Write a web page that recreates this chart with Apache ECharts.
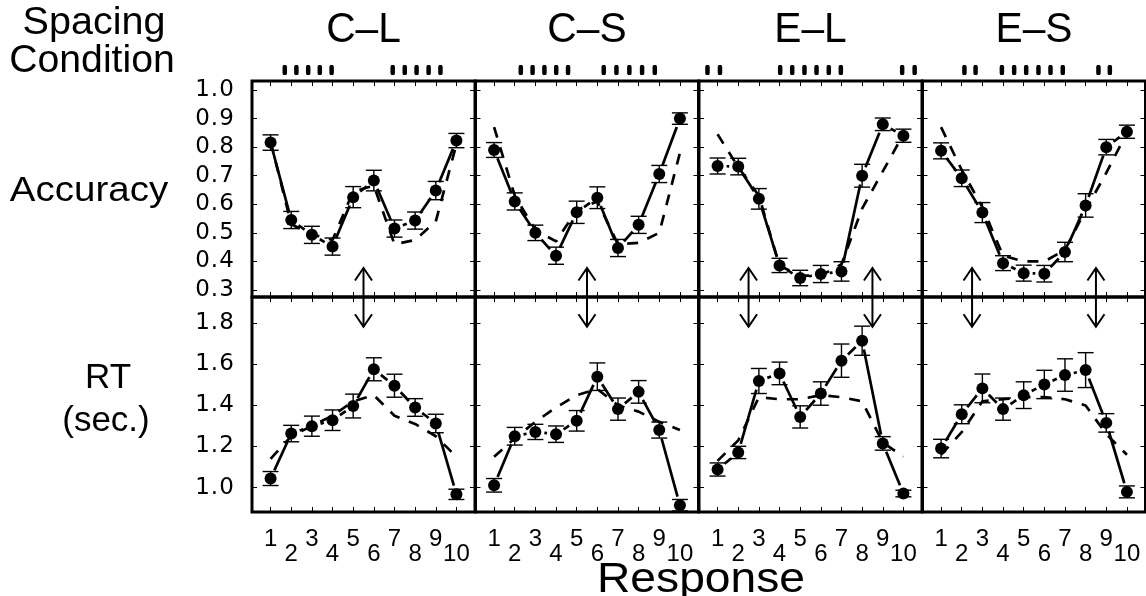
<!DOCTYPE html>
<html>
<head>
<meta charset="utf-8">
<script src="https://cdn.jsdelivr.net/npm/echarts@6/dist/echarts.min.js"></script>
<style>html,body{margin:0;padding:0;background:#fff;}#c{width:1146px;height:596px;}</style>
</head>
<body>
<div id="c"></div>
<script>
// ---------------- data ----------------
const conditions = ['C–L', 'C–S', 'E–L', 'E–S'];
const responses = [1, 2, 3, 4, 5, 6, 7, 8, 9, 10];
const accTicks = [0.3, 0.4, 0.5, 0.6, 0.7, 0.8, 0.9, 1.0];
const rtTicks = [1.0, 1.2, 1.4, 1.6, 1.8];

// spacing of stimuli (percent of panel width)
const spacingCL = [14.7, 19.9, 25.2, 30.4, 35.7, 63.1, 68.5, 73.8, 79.2, 84.5];
const spacingCS = [20.3, 25.6, 30.9, 36.2, 41.5, 57.5, 63.2, 69.0, 74.7, 80.4];
const spacingEL = [3.8, 9.4, 36.4, 41.8, 47.3, 52.7, 58.2, 63.6, 91.1, 96.7];
const spacingES = [18.8, 23.8, 35.6, 41.1, 46.5, 52.0, 57.4, 62.9, 78.9, 84.0];

// accuracy: observed, standard error, model
const accCL = [0.816, 0.545, 0.493, 0.452, 0.625, 0.683, 0.515, 0.543, 0.648, 0.823];
const accCS = [0.790, 0.610, 0.500, 0.420, 0.572, 0.623, 0.447, 0.528, 0.706, 0.900];
const accEL = [0.734, 0.732, 0.619, 0.386, 0.342, 0.356, 0.365, 0.700, 0.880, 0.840];
const accES = [0.787, 0.691, 0.571, 0.394, 0.359, 0.357, 0.433, 0.596, 0.800, 0.854];
const accErrCL = [0.027, 0.030, 0.030, 0.030, 0.037, 0.036, 0.030, 0.030, 0.032, 0.025];
const accErrCS = [0.026, 0.030, 0.027, 0.030, 0.039, 0.038, 0.030, 0.030, 0.030, 0.020];
const accErrEL = [0.028, 0.029, 0.036, 0.025, 0.027, 0.030, 0.034, 0.040, 0.022, 0.023];
const accErrES = [0.028, 0.029, 0.035, 0.026, 0.028, 0.029, 0.034, 0.041, 0.027, 0.023];
const accModelCL = [0.82, 0.53, 0.495, 0.475, 0.645, 0.665, 0.46, 0.475, 0.54, 0.81];
const accModelCS = [0.87, 0.63, 0.51, 0.47, 0.58, 0.61, 0.46, 0.465, 0.50, 0.78];
const accModelEL = [0.845, 0.73, 0.63, 0.385, 0.35, 0.35, 0.39, 0.585, 0.715, 0.845];
const accModelES = [0.87, 0.72, 0.59, 0.42, 0.40, 0.40, 0.44, 0.58, 0.71, 0.85];

// RT (sec.): observed, standard error, model
const rtCL = [1.044, 1.263, 1.299, 1.328, 1.397, 1.576, 1.496, 1.390, 1.312, 0.967];
const rtCS = [1.011, 1.250, 1.271, 1.260, 1.325, 1.540, 1.382, 1.466, 1.280, 0.914];
const rtEL = [1.088, 1.171, 1.519, 1.556, 1.344, 1.458, 1.618, 1.715, 1.215, 0.971];
const rtES = [1.190, 1.357, 1.483, 1.382, 1.450, 1.502, 1.548, 1.572, 1.315, 0.979];
const rtErrCL = [0.034, 0.040, 0.049, 0.050, 0.058, 0.056, 0.056, 0.043, 0.045, 0.025];
const rtErrCS = [0.033, 0.043, 0.037, 0.040, 0.050, 0.067, 0.054, 0.055, 0.039, 0.028];
const rtErrEL = [0.032, 0.030, 0.061, 0.055, 0.054, 0.057, 0.081, 0.071, 0.033, 0.016];
const rtErrES = [0.045, 0.046, 0.070, 0.054, 0.065, 0.069, 0.079, 0.085, 0.045, 0.029];
const rtModelCL = [1.14, 1.25, 1.30, 1.35, 1.42, 1.45, 1.35, 1.31, 1.25, 1.15];
const rtModelCS = [1.15, 1.24, 1.32, 1.39, 1.45, 1.48, 1.40, 1.37, 1.32, 1.28];
const rtModelEL = [1.13, 1.23, 1.44, 1.43, 1.43, 1.45, 1.44, 1.42, 1.22, 1.15];
const rtModelES = [1.16, 1.27, 1.42, 1.43, 1.44, 1.44, 1.43, 1.40, 1.26, 1.16];

// arrows (response position) and their tip values
const arrowPos = [[5.5], [5.5], [2.5, 8.5], [2.5, 8.5]];
const arrowTipAcc = 0.377;
const arrowTipRT = 1.783;

// ---------------- layout ----------------
const FONT = '"Liberation Sans", Arial, Helvetica, sans-serif';
const WIDEFONT = '"DejaVu Sans", "Liberation Sans", sans-serif';
const lefts = [252, 475.5, 699, 922.5];
const GW = 223;
const rowTop = [81, 297];
const rowH = [216, 215];
const xMin = 0.1, xMax = 10.9;
const accRange = [0.2755, 1.0315];
const rtRange = [0.881, 1.928];

const spacing = [spacingCL, spacingCS, spacingEL, spacingES];
const accObs = [accCL, accCS, accEL, accES];
const accErr = [accErrCL, accErrCS, accErrEL, accErrES];
const accModel = [accModelCL, accModelCS, accModelEL, accModelES];
const rtObs = [rtCL, rtCS, rtEL, rtES];
const rtErr = [rtErrCL, rtErrCS, rtErrEL, rtErrES];
const rtModel = [rtModelCL, rtModelCS, rtModelEL, rtModelES];

const grids = [], xAxes = [], yAxes = [], series = [], graphics = [];

function errRender(params, api) {
  const x = api.value(0), m = api.value(1), e = api.value(2);
  const a = api.coord([x, m + e]), b = api.coord([x, m - e]);
  const hw = 8, st = { stroke: '#000', lineWidth: 1.4 };
  return { type: 'group', children: [
    { type: 'line', shape: { x1: a[0], y1: a[1], x2: b[0], y2: b[1] }, style: st },
    { type: 'line', shape: { x1: a[0] - hw, y1: a[1], x2: a[0] + hw, y2: a[1] }, style: st },
    { type: 'line', shape: { x1: b[0] - hw, y1: b[1], x2: b[0] + hw, y2: b[1] }, style: st }
  ] };
}
function segRender(params, api) {
  const p = api.coord([api.value(0), api.value(1)]);
  const q = api.coord([api.value(2), api.value(3)]);
  const dx = q[0] - p[0], dy = q[1] - p[1], L = Math.hypot(dx, dy), g = 9;
  if (L <= 2 * g) return { type: 'group', children: [] };
  const ux = dx / L, uy = dy / L;
  return { type: 'line', shape: { x1: p[0] + ux * g, y1: p[1] + uy * g, x2: q[0] - ux * g, y2: q[1] - uy * g },
    style: { stroke: '#000', lineWidth: 2.7, lineCap: 'butt' } };
}
function arrowUpRender(params, api) {
  const x = api.value(0);
  const t = api.coord([x, api.value(1)]);
  const b = api.coord([x, accRange[0]]);
  const st = { stroke: '#000', lineWidth: 2, fill: null };
  return { type: 'group', children: [
    { type: 'line', shape: { x1: t[0], y1: t[1], x2: b[0], y2: b[1] }, style: st },
    { type: 'polyline', shape: { points: [[t[0] - 8.5, t[1] + 12.5], [t[0], t[1]], [t[0] + 8.5, t[1] + 12.5]] }, style: st }
  ] };
}
function arrowDownRender(params, api) {
  const x = api.value(0);
  const t = api.coord([x, api.value(1)]);
  const b = api.coord([x, rtRange[1]]);
  const st = { stroke: '#000', lineWidth: 2, fill: null };
  return { type: 'group', children: [
    { type: 'line', shape: { x1: b[0], y1: b[1], x2: t[0], y2: t[1] }, style: st },
    { type: 'polyline', shape: { points: [[t[0] - 8.5, t[1] - 12.5], [t[0], t[1]], [t[0] + 8.5, t[1] - 12.5]] }, style: st }
  ] };
}

const tickStyle = { show: true, inside: true, length: 5, lineStyle: { color: '#000', width: 1 } };

function yLabelFmt(v) {
  return v.toFixed(1).split('').map(ch => ch === '.' ? '{p|.}' : '{d|' + ch + '}').join('');
}

for (let row = 0; row < 2; row++) {
  for (let c = 0; c < 4; c++) {
    const gi = grids.length;
    grids.push({ left: lefts[c], top: rowTop[row], width: GW, height: rowH[row], show: true,
      borderColor: '#000', borderWidth: 3, backgroundColor: 'transparent', containLabel: false });
    const range = row === 0 ? accRange : rtRange;
    const ticks = row === 0 ? accTicks : rtTicks;
    // main bottom x axis
    const xi = xAxes.length;
    xAxes.push({ type: 'value', gridIndex: gi, position: 'bottom', min: xMin, max: xMax,
      axisLine: { show: false }, splitLine: { show: false },
      axisTick: Object.assign({ customValues: responses }, tickStyle),
      axisLabel: { show: row === 1, customValues: responses.filter(v => v % 2 === 1), margin: 15,
        color: '#000', fontSize: 24, fontFamily: FONT } });
    // top ticks
    xAxes.push({ type: 'value', gridIndex: gi, position: 'top', min: xMin, max: xMax,
      axisLine: { show: false }, splitLine: { show: false },
      axisTick: Object.assign({ customValues: responses }, tickStyle), axisLabel: { show: false } });
    if (row === 1) {
      xAxes.push({ type: 'value', gridIndex: gi, position: 'bottom', min: xMin, max: xMax,
        axisLine: { show: false }, splitLine: { show: false }, axisTick: { show: false },
        axisLabel: { show: true, customValues: responses.filter(v => v % 2 === 0), margin: 30,
          color: '#000', fontSize: 24, fontFamily: FONT } });
    }
    const yi = yAxes.length;
    yAxes.push({ type: 'value', gridIndex: gi, position: 'left', min: range[0], max: range[1],
      axisLine: { show: false }, splitLine: { show: false },
      axisTick: Object.assign({ customValues: ticks }, tickStyle),
      axisLabel: { show: c === 0, customValues: ticks, margin: 18, formatter: yLabelFmt,
        rich: { d: { width: 15, align: 'center', fontSize: 23, fontFamily: WIDEFONT, color: '#000' },
                p: { width: 9, align: 'center', fontSize: 23, fontFamily: WIDEFONT, color: '#000' } } } });
    yAxes.push({ type: 'value', gridIndex: gi, position: 'right', min: range[0], max: range[1],
      axisLine: { show: false }, splitLine: { show: false },
      axisTick: Object.assign({ customValues: ticks }, tickStyle), axisLabel: { show: false } });

    const obs = row === 0 ? accObs[c] : rtObs[c];
    const err = row === 0 ? accErr[c] : rtErr[c];
    const mod = row === 0 ? accModel[c] : rtModel[c];

    series.push({ type: 'custom', xAxisIndex: xi, yAxisIndex: yi, renderItem: errRender, silent: true,
      encode: { x: 0, y: 1 }, data: obs.map((v, i) => [responses[i], v, err[i]]), z: 2 });
    const segs = [];
    for (let i = 0; i < obs.length - 1; i++) segs.push([responses[i], obs[i], responses[i + 1], obs[i + 1]]);
    series.push({ type: 'custom', xAxisIndex: xi, yAxisIndex: yi, renderItem: segRender, silent: true,
      encode: { x: [0, 2], y: [1, 3] }, data: segs, z: 3 });
    series.push({ type: 'line', xAxisIndex: xi, yAxisIndex: yi, data: mod.map((v, i) => [responses[i], v]),
      symbol: 'none', showSymbol: false, silent: true, z: 4,
      lineStyle: { color: '#000', width: 2.7, type: [11, 10] } });
    series.push({ type: 'scatter', xAxisIndex: xi, yAxisIndex: yi, data: obs.map((v, i) => [responses[i], v]),
      symbol: 'circle', symbolSize: 12, itemStyle: { color: '#000', opacity: 1 }, silent: true, z: 5 });
    series.push({ type: 'custom', xAxisIndex: xi, yAxisIndex: yi, silent: true, clip: false, z: 6,
      renderItem: row === 0 ? arrowUpRender : arrowDownRender, encode: { x: 0, y: 1 },
      data: arrowPos[c].map(p => [p, row === 0 ? arrowTipAcc : arrowTipRT]) });
  }
}

// spacing condition strips
for (let c = 0; c < 4; c++) {
  const gi = grids.length;
  grids.push({ left: lefts[c], top: 64, width: GW, height: 12, show: false });
  const xi = xAxes.length, yi = yAxes.length;
  xAxes.push({ type: 'value', gridIndex: gi, min: 0, max: 100, show: false });
  yAxes.push({ type: 'value', gridIndex: gi, min: 0, max: 1, show: false });
  series.push({ type: 'scatter', xAxisIndex: xi, yAxisIndex: yi, silent: true,
    data: spacing[c].map(p => [p, 0.5]), symbol: 'roundRect', symbolSize: [4.5, 10],
    itemStyle: { color: '#000', opacity: 1 } });
}

// texts
function txt(text, x, y, size, sx) {
  graphics.push({ type: 'text', x: x, y: y, scaleX: sx || 1, silent: true,
    style: { text: text, font: size + 'px ' + FONT, fill: '#000', align: 'center', verticalAlign: 'middle' } });
}
txt('Spacing', 94, 24, 38, 1.04);
txt('Condition', 92, 62, 38, 1.03);
conditions.forEach((t, c) => txt(t, lefts[c] + GW / 2, 30, 42, 0.97));
txt('Accuracy', 89, 191, 35, 1.1);
txt('RT', 108, 378, 35, 1);
txt('(sec.)', 106, 421, 35, 1);
txt('Response', 701, 580, 42, 1.1);

const chart = echarts.init(document.getElementById('c'), null, { renderer: 'canvas' });
chart.setOption({
  animation: false,
  backgroundColor: '#fff',
  grid: grids, xAxis: xAxes, yAxis: yAxes, series: series, graphic: graphics
});
</script>
</body>
</html>
